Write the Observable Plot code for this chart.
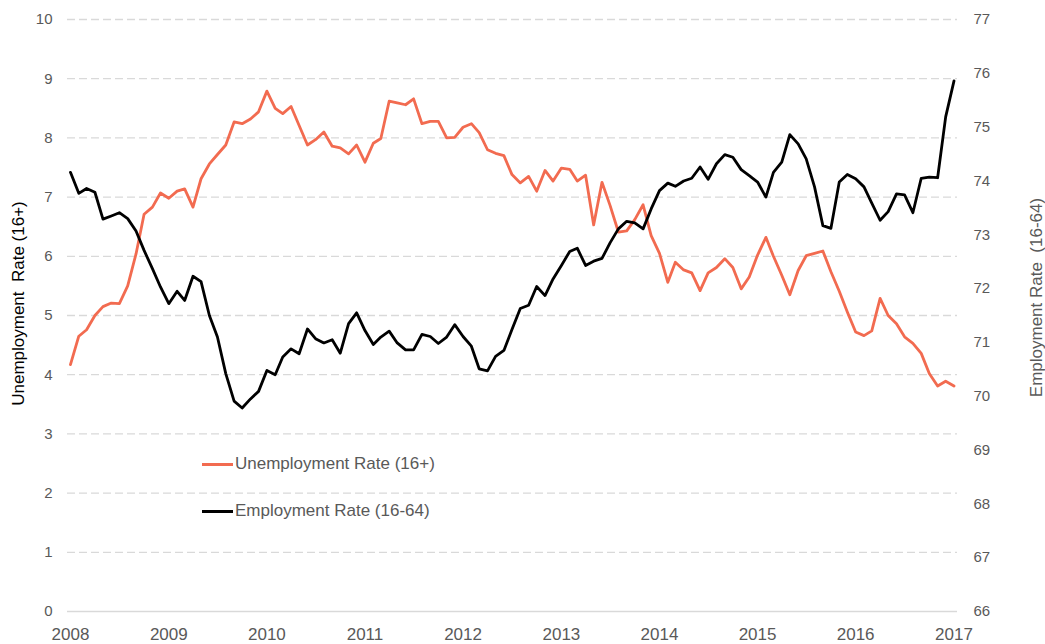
<!DOCTYPE html>
<html><head><meta charset="utf-8">
<script src="https://cdn.jsdelivr.net/npm/d3@7"></script>
<script src="https://cdn.jsdelivr.net/npm/@observablehq/plot@0.6"></script>
<style>
body{margin:0;background:#fff;font-family:"Liberation Sans",Arial,sans-serif;}
#wrap{position:relative;width:1045px;height:644px;overflow:hidden;}
.leg{position:absolute;left:202px;font-size:17px;color:#595959;display:flex;align-items:center;height:20px;white-space:nowrap;}
.leg .sw{display:inline-block;width:31px;height:3px;margin-right:2px;}
</style></head><body><div id="wrap"></div>
<script>
// Monthly observations, Jan 2008 – Jan 2017
const startYear = 2008;
const unemployment = [
  4.17,4.65,4.76,5.00,5.15,5.21,5.20,5.50,6.04,6.71,6.83,7.07,
  6.98,7.10,7.14,6.83,7.31,7.56,7.72,7.88,8.27,8.24,8.32,8.44,
  8.79,8.50,8.41,8.53,8.21,7.88,7.97,8.10,7.86,7.83,7.73,7.88,
  7.59,7.91,7.99,8.62,8.59,8.56,8.66,8.24,8.28,8.28,8.00,8.01,
  8.18,8.24,8.09,7.80,7.74,7.70,7.38,7.24,7.35,7.10,7.45,7.27,
  7.49,7.47,7.27,7.37,6.53,7.25,6.86,6.41,6.43,6.62,6.87,6.35,
  6.05,5.56,5.90,5.77,5.72,5.42,5.72,5.81,5.96,5.81,5.45,5.65,
  6.02,6.32,6.00,5.68,5.35,5.76,6.01,6.05,6.09,5.74,5.41,5.06,
  4.72,4.66,4.74,5.29,5.00,4.86,4.64,4.53,4.36,4.02,3.81,3.89,3.81
];
const employment = [
  74.16,73.77,73.86,73.79,73.29,73.35,73.41,73.30,73.07,72.71,72.37,72.03,
  71.72,71.95,71.78,72.23,72.13,71.50,71.10,70.42,69.91,69.78,69.95,70.09,
  70.48,70.40,70.73,70.88,70.79,71.25,71.07,70.99,71.05,70.80,71.35,71.55,
  71.22,70.96,71.10,71.21,70.99,70.86,70.86,71.15,71.11,70.98,71.10,71.33,
  71.11,70.93,70.51,70.47,70.74,70.85,71.24,71.63,71.69,72.04,71.87,72.18,
  72.43,72.69,72.75,72.43,72.51,72.56,72.85,73.11,73.25,73.22,73.11,73.48,
  73.82,73.96,73.90,74.00,74.05,74.26,74.03,74.32,74.49,74.44,74.21,74.10,
  73.98,73.70,74.16,74.35,74.86,74.69,74.41,73.89,73.17,73.12,73.98,74.12,
  74.04,73.89,73.59,73.27,73.43,73.76,73.74,73.41,74.05,74.07,74.06,75.19,75.86
];
const yearTicks = [2008,2009,2010,2011,2012,2013,2014,2015,2016,2017];
const leftTicks = [0,1,2,3,4,5,6,7,8,9,10];
const rightTicks = [66,67,68,69,70,71,72,73,74,75,76,77];
const seriesNames = ["Unemployment Rate (16+)", "Employment Rate (16-64)"];
const leftTitle = "Unemployment  Rate (16+)";
const rightTitle = "Employment Rate  (16-64)";

const rightMin = 66, rightMax = 77, leftMax = 10;
const toLeft = v => (v - rightMin) * leftMax / (rightMax - rightMin);
const fromLeft = v => v * (rightMax - rightMin) / leftMax + rightMin;

const data = unemployment.map((u, i) => ({
  date: new Date(Date.UTC(startYear, i, 1)),
  unemp: u,
  emp: employment[i]
}));

const ORANGE = "#f26b50";
const GRID = "#d9d9d9";
const TEXT = "#595959";

const chart = Plot.plot({
  width: 1045,
  height: 644,
  marginLeft: 67,
  marginRight: 88,
  marginTop: 19,
  marginBottom: 33,
  style: {fontFamily: "'Liberation Sans', Arial, sans-serif", fontSize: "15px", color: TEXT, background: "#fff", overflow: "visible"},
  x: {type: "utc", domain: [new Date(Date.UTC(2007, 11, 21)), new Date(Date.UTC(2017, 0, 14))]},
  y: {domain: [0, 10]},
  marks: [
    Plot.ruleY(leftTicks.filter(t => t > 0), {stroke: GRID, strokeWidth: 1.3, strokeDasharray: "8,4"}),
    Plot.ruleY([0], {stroke: GRID, strokeWidth: 1.3}),
    Plot.axisY(leftTicks, {anchor: "left", tickSize: 0, tickPadding: 15, label: null, fontSize: 15, fill: TEXT,
      tickFormat: v => String(v)}),
    Plot.axisY(rightTicks.map(toLeft), {anchor: "right", tickSize: 0, tickPadding: 16, label: null, fontSize: 15, fill: TEXT,
      tickFormat: v => String(Math.round(fromLeft(v)))}),
    Plot.axisX(yearTicks.map(y => new Date(Date.UTC(y, 0, 1))), {anchor: "bottom", tickSize: 0, tickPadding: 16, label: null, fontSize: 17, fill: TEXT,
      tickFormat: d => String(d.getUTCFullYear())}),
    Plot.line(data, {x: "date", y: "unemp", stroke: ORANGE, strokeWidth: 2.8, strokeLinejoin: "round"}),
    Plot.line(data, {x: "date", y: d => toLeft(d.emp), stroke: "#000", strokeWidth: 2.8, strokeLinejoin: "round"}),
    Plot.text([leftTitle], {frameAnchor: "left", textAnchor: "middle", rotate: -90, dx: -49, dy: -12, fontSize: 17, fill: "#000", text: d => d}),
    Plot.text([rightTitle], {frameAnchor: "right", textAnchor: "middle", rotate: -90, dx: 79, dy: -18, fontSize: 17, fill: TEXT, text: d => d})
  ]
});

const wrap = document.getElementById("wrap");
wrap.appendChild(chart);

const legendTops = [454, 501];
const legendColors = [ORANGE, "#000"];
seriesNames.forEach((name, i) => {
  const div = document.createElement("div");
  div.className = "leg";
  div.style.top = legendTops[i] + "px";
  const sw = document.createElement("span");
  sw.className = "sw";
  sw.style.background = legendColors[i];
  div.appendChild(sw);
  div.appendChild(document.createTextNode(name));
  wrap.appendChild(div);
});
</script>
</body></html>
